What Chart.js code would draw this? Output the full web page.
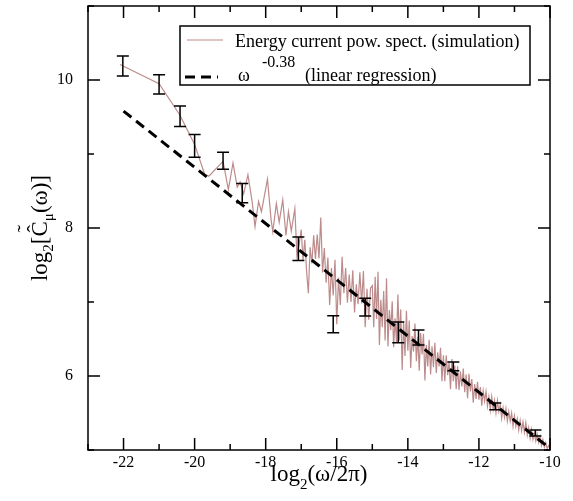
<!DOCTYPE html>
<html lang="en">

<head>
    <meta charset="UTF-8">
    <title>Energy current power spectrum</title>
    <script src="https://cdn.jsdelivr.net/npm/chart.js@4.4.1/dist/chart.umd.min.js"></script>
    <style>
        body { margin: 0; background: #fff; }
        canvas { display: block; }
    </style>
</head>

<body>
    <canvas id="chart" width="573" height="501"></canvas>

    <script>
        // axis ticks
        const xTicks = [-22, -20, -18, -16, -14, -12, -10];
        const xMinorTicks = [-23, -21, -19, -17, -15, -13, -11];
        const yTicks = [6, 8, 10];
        const yMinorTicks = [5, 7, 9, 11];

        // simulated power spectrum
        const simX = [
            -22.10, -21.00, -20.42, -20.00, -19.72, -19.60, -19.20, -19.05, -18.92, -18.80,
            -18.72, -18.62, -18.50, -18.38, -18.30, -18.20, -18.12, -18.05, -17.95, -17.85,
            -17.80, -17.70, -17.62, -17.52, -17.43, -17.36, -17.28, -17.18, -17.12, -17.06,
            -17.00, -16.95, -16.90, -16.85, -16.80, -16.75, -16.70, -16.65, -16.60, -16.55,
            -16.50, -16.45, -16.40, -16.35, -16.30, -16.25, -16.20, -16.15, -16.10, -16.05,
            -16.00, -15.95, -15.90, -15.85, -15.80, -15.75, -15.70, -15.65, -15.60, -15.55,
            -15.50, -15.45, -15.40, -15.35, -15.30, -15.25, -15.20, -15.15, -15.10, -15.05,
            -15.00, -14.96, -14.92, -14.88, -14.84, -14.80, -14.76, -14.72, -14.68, -14.64,
            -14.60, -14.56, -14.52, -14.48, -14.44, -14.40, -14.36, -14.32, -14.28, -14.24,
            -14.20, -14.16, -14.12, -14.08, -14.04, -14.00, -13.96, -13.92, -13.88, -13.84,
            -13.80, -13.76, -13.72, -13.68, -13.64, -13.60, -13.56, -13.52, -13.48, -13.44,
            -13.40, -13.36, -13.32, -13.28, -13.24, -13.20, -13.16, -13.12, -13.08, -13.04,
            -13.00, -12.96, -12.92, -12.88, -12.84, -12.80, -12.76, -12.72, -12.68, -12.64,
            -12.60, -12.56, -12.52, -12.48, -12.44, -12.40, -12.36, -12.32, -12.28, -12.24,
            -12.20, -12.16, -12.12, -12.08, -12.04, -12.00, -11.96, -11.92, -11.88, -11.84,
            -11.80, -11.76, -11.72, -11.68, -11.64, -11.60, -11.56, -11.52, -11.48, -11.44,
            -11.40, -11.36, -11.32, -11.28, -11.24, -11.20, -11.16, -11.12, -11.08, -11.04,
            -11.00, -10.96, -10.92, -10.88, -10.84, -10.80, -10.76, -10.72, -10.68, -10.64,
            -10.60, -10.56, -10.52, -10.48, -10.44, -10.40, -10.36, -10.32, -10.28, -10.24,
            -10.20, -10.16, -10.12, -10.08, -10.04, -10.00
        ];
        const simY = [
            10.21, 9.95, 9.53, 9.13, 8.73, 8.70, 8.90, 8.52, 8.88, 8.55,
            8.62, 8.46, 8.72, 8.35, 8.02, 8.36, 8.22, 8.40, 8.66, 8.12,
            7.95, 8.33, 8.08, 8.38, 7.90, 8.22, 7.96, 8.26, 7.62, 7.78,
            7.98, 7.56, 7.84, 7.42, 7.12, 7.74, 7.52, 7.90, 7.58, 7.91,
            7.59, 8.14, 7.40, 7.73, 7.26, 7.60, 6.96, 7.46, 7.09, 7.57,
            6.70, 7.33, 6.96, 7.61, 7.12, 7.46, 6.99, 7.37, 7.00, 7.43,
            6.86, 7.24, 6.97, 7.40, 6.98, 7.42, 6.66, 7.18, 6.76, 7.19,
            7.22, 6.66, 7.34, 6.77, 7.41, 6.42, 7.03, 6.66, 7.15, 6.48,
            7.32, 6.40, 6.89, 6.62, 7.01, 6.39, 6.78, 6.46, 7.10, 6.48,
            6.90, 6.08, 6.74, 6.27, 6.88, 6.34, 6.75, 6.11, 6.54, 6.33,
            6.71, 6.20, 6.53, 6.07, 6.58, 6.29, 6.57, 5.94, 6.42, 6.13,
            6.49, 6.02, 6.40, 6.12, 6.45, 6.04, 6.32, 6.13, 6.38, 5.93,
            6.28, 5.93, 6.28, 6.01, 6.18, 5.82, 6.23, 5.93, 6.14, 5.82,
            6.13, 5.81, 6.06, 5.86, 6.10, 5.78, 6.02, 5.70, 6.03, 5.79,
            5.96, 5.64, 5.89, 5.69, 5.92, 5.68, 5.85, 5.60, 5.80, 5.66,
            5.79, 5.59, 5.72, 5.54, 5.72, 5.55, 5.67, 5.50, 5.67, 5.52,
            5.61, 5.43, 5.57, 5.44, 5.56, 5.39, 5.52, 5.39, 5.50, 5.32,
            5.46, 5.32, 5.42, 5.27, 5.40, 5.26, 5.38, 5.24, 5.37, 5.20,
            5.30, 5.16, 5.28, 5.14, 5.23, 5.12, 5.21, 5.10, 5.18, 5.06,
            5.14, 5.04, 5.10, 5.02, 5.06, 5.02
        ];

        // linear regression, slope -0.38
        const regX = [-22, -10];
        const regY = [9.58, 5.02];

        // error bars
        const errX = [-22.02, -21.0, -20.41, -20.0, -19.2, -18.66, -17.08, -16.1, -15.2, -14.27, -13.7, -12.72, -11.54, -10.41];
        const errY = [10.19, 9.94, 9.51, 9.11, 8.91, 8.47, 7.72, 6.70, 6.93, 6.59, 6.52, 6.13, 5.59, 5.23];
        const errSize = [0.135, 0.13, 0.14, 0.155, 0.115, 0.13, 0.16, 0.115, 0.12, 0.14, 0.1, 0.06, 0.045, 0.04];

        const serif = "'Liberation Serif', 'Times New Roman', serif";
        const simColor = '#bd8b8b';

        // text made of pieces, some raised or lowered
        function drawPieces(ctx, pieces, x, y) {
            let w = 0;
            for (const p of pieces) {
                ctx.font = p.size + 'px ' + serif;
                p.w = ctx.measureText(p.t).width;
                w += p.w;
            }
            let cx = x - w / 2;
            for (const p of pieces) {
                ctx.font = p.size + 'px ' + serif;
                ctx.fillText(p.t, cx, y + (p.dy || 0));
                if (p.accents) {
                    ctx.font = '22px ' + serif;
                    ctx.textAlign = 'center';
                    ctx.fillText('\u02C6', cx + p.w / 2, y - 5);
                    ctx.fillText('\u02DC', cx + p.w / 2, y - 15);
                    ctx.textAlign = 'left';
                }
                cx += p.w;
            }
        }

        // scales keep exactly the size we give them
        function noPadding(s) {
            s.paddingTop = 0; s.paddingBottom = 0;
            s.paddingLeft = 0; s.paddingRight = 0;
        }

        const framePlugin = {
            id: 'frame',
            afterDatasetsDraw(chart) {
                const { ctx, scales: { x, y } } = chart;
                ctx.save();
                ctx.strokeStyle = '#000';
                ctx.lineWidth = 1.5;
                for (let i = 0; i < errX.length; i++) {
                    const px = x.getPixelForValue(errX[i]);
                    const top = y.getPixelForValue(errY[i] + errSize[i]);
                    const bot = y.getPixelForValue(errY[i] - errSize[i]);
                    ctx.beginPath();
                    ctx.moveTo(px, top); ctx.lineTo(px, bot);
                    ctx.moveTo(px - 6, top); ctx.lineTo(px + 6, top);
                    ctx.moveTo(px - 6, bot); ctx.lineTo(px + 6, bot);
                    ctx.stroke();
                }
                ctx.restore();
            },
            afterDraw(chart) {
                const { ctx, chartArea: a, scales: { x, y } } = chart;
                ctx.save();
                ctx.strokeStyle = '#000';
                ctx.lineWidth = 1.5;
                ctx.strokeRect(a.left, a.top, a.right - a.left, a.bottom - a.top);

                // inward ticks on all four sides
                ctx.beginPath();
                const xt = (v, len) => {
                    const p = x.getPixelForValue(v);
                    ctx.moveTo(p, a.bottom); ctx.lineTo(p, a.bottom - len);
                    ctx.moveTo(p, a.top); ctx.lineTo(p, a.top + len);
                };
                const yt = (v, len) => {
                    const p = y.getPixelForValue(v);
                    ctx.moveTo(a.left, p); ctx.lineTo(a.left + len, p);
                    ctx.moveTo(a.right, p); ctx.lineTo(a.right - len, p);
                };
                xTicks.forEach(v => xt(v, 12));
                xMinorTicks.forEach(v => xt(v, 6));
                yTicks.forEach(v => yt(v, 12));
                yMinorTicks.forEach(v => yt(v, 6));
                ctx.stroke();

                // axis titles
                ctx.fillStyle = '#000';
                ctx.textBaseline = 'alphabetic';
                ctx.textAlign = 'left';
                drawPieces(ctx, [
                    { t: 'log', size: 23 },
                    { t: '2', size: 15, dy: 8 },
                    { t: '(\u03C9/2\u03C0)', size: 23 }
                ], (a.left + a.right) / 2, 481);

                ctx.save();
                ctx.translate(47, (a.top + a.bottom) / 2);
                ctx.rotate(-Math.PI / 2);
                drawPieces(ctx, [
                    { t: 'log', size: 23 },
                    { t: '2', size: 15, dy: 6 },
                    { t: '[', size: 23 },
                    { t: 'C', size: 23, accents: true },
                    { t: '\u03BC', size: 15, dy: 6 },
                    { t: '(\u03C9)]', size: 23 }
                ], 0, 0);
                ctx.restore();

                // legend box
                ctx.fillStyle = '#fff';
                ctx.fillRect(180, 26, 350, 59);
                ctx.strokeRect(180, 26, 350, 59);

                ctx.strokeStyle = simColor;
                ctx.lineWidth = 1;
                ctx.beginPath();
                ctx.moveTo(187, 40); ctx.lineTo(223, 40);
                ctx.stroke();

                ctx.strokeStyle = '#000';
                ctx.lineWidth = 3;
                ctx.setLineDash([10, 6]);
                ctx.beginPath();
                ctx.moveTo(185, 77); ctx.lineTo(218, 77);
                ctx.stroke();
                ctx.setLineDash([]);

                ctx.fillStyle = '#000';
                ctx.font = '18px ' + serif;
                ctx.fillText('Energy current pow. spect. (simulation)', 235, 47);
                ctx.fillText('\u03C9', 238, 81);
                ctx.font = '16px ' + serif;
                ctx.fillText('-0.38', 262, 67);
                ctx.font = '18px ' + serif;
                ctx.fillText('(linear regression)', 305, 81);
                ctx.restore();
            }
        };

        const tickFont = { family: serif, size: 16 };

        const chart = new Chart(document.getElementById('chart'), {
            type: 'scatter',
            data: {
                datasets: [
                    {
                        label: 'Energy current pow. spect. (simulation)',
                        data: simX.map((v, i) => ({ x: v, y: simY[i] })),
                        showLine: true,
                        borderColor: simColor,
                        borderWidth: 1.2,
                        pointRadius: 0,
                        order: 3
                    },
                    {
                        label: 'linear regression',
                        data: regX.map((v, i) => ({ x: v, y: regY[i] })),
                        showLine: true,
                        borderColor: '#000',
                        borderWidth: 3,
                        borderDash: [10, 6],
                        pointRadius: 0,
                        order: 2
                    }
                ]
            },
            options: {
                responsive: false,
                animation: false,
                devicePixelRatio: 1,
                layout: { padding: { top: 6, right: 23, left: 0, bottom: 0 } },
                plugins: { legend: { display: false }, tooltip: { enabled: false } },
                scales: {
                    x: {
                        type: 'linear',
                        min: -23,
                        max: -10,
                        afterBuildTicks: s => { s.ticks = xTicks.map(v => ({ value: v })); },
                        afterFit: s => { s.height = 51; noPadding(s); },
                        grid: { display: false, drawTicks: false },
                        border: { display: false },
                        ticks: { font: tickFont, color: '#000', padding: 3, maxRotation: 0, autoSkip: false }
                    },
                    y: {
                        type: 'linear',
                        min: 5,
                        max: 11,
                        afterBuildTicks: s => { s.ticks = yTicks.map(v => ({ value: v })); },
                        afterFit: s => { s.width = 88; noPadding(s); },
                        grid: { display: false, drawTicks: false },
                        border: { display: false },
                        ticks: { font: tickFont, color: '#000', padding: 15 }
                    }
                }
            },
            plugins: [framePlugin]
        });
    </script>
</body>

</html>
